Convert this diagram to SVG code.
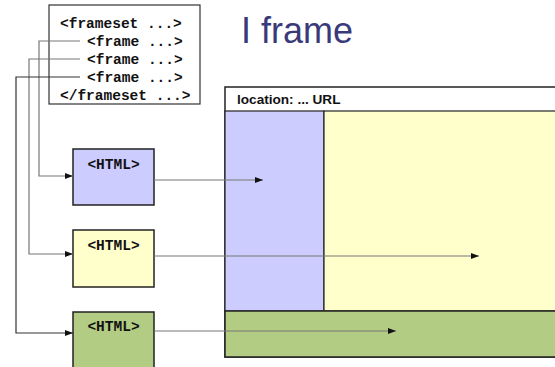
<svg xmlns="http://www.w3.org/2000/svg" width="555" height="367" viewBox="0 0 555 367">
<defs>
<marker id="arr" viewBox="0 0 8 6" refX="8" refY="3" markerWidth="8" markerHeight="6" markerUnits="userSpaceOnUse" orient="auto">
<path d="M0,0 L8,3 L0,6 Z" fill="#111"/>
</marker>
<style>
.code{font-family:"Liberation Mono",monospace;font-weight:bold;font-size:14.5px;fill:#111}
.box{stroke:#222;stroke-width:1.5}
.conn{fill:none;stroke:#777;stroke-width:1.2;marker-end:url(#arr)}
</style>
</defs>
<rect width="555" height="367" fill="#fff"/>
<text x="241" y="43" font-family="Liberation Sans,Arial,sans-serif" font-size="36" fill="#3a3a7a">I frame</text>
<g id="frameset">
<rect x="49" y="5" width="151" height="99" fill="#fff" stroke="#333" stroke-width="1.2"/>
<text class="code" x="60" y="28">&lt;frameset ...&gt;</text>
<text class="code" x="87" y="46">&lt;frame ...&gt;</text>
<text class="code" x="87" y="64">&lt;frame ...&gt;</text>
<text class="code" x="87" y="82">&lt;frame ...&gt;</text>
<text class="code" x="60" y="100">&lt;/frameset ...&gt;</text>
</g>
<g id="browser">
<rect x="225" y="87" width="340" height="270" fill="#fff" stroke="#222" stroke-width="1.5"/>
<text x="237" y="104" font-family="Liberation Sans,Arial,sans-serif" font-weight="bold" font-size="13.6" fill="#111">location: ... URL</text>
<rect x="225" y="111" width="99" height="200" fill="#ccccff" stroke="#222" stroke-width="1.2"/>
<rect x="324" y="111" width="241" height="200" fill="#ffffcc" stroke="#222" stroke-width="1.2"/>
<rect x="225" y="311" width="340" height="46" fill="#b3cc83" stroke="#222" stroke-width="1.5"/>
</g>
<g id="html1">
<rect class="box" x="73" y="149" width="81" height="56" fill="#ccccff"/>
<text class="code" x="113.5" y="169" text-anchor="middle">&lt;HTML&gt;</text>
</g>
<g id="html2">
<rect class="box" x="73" y="230" width="81" height="57" fill="#ffffcc"/>
<text class="code" x="113.5" y="250" text-anchor="middle">&lt;HTML&gt;</text>
</g>
<g id="html3">
<rect class="box" x="73" y="312" width="81" height="60" fill="#b3cc83"/>
<text class="code" x="113.5" y="331" text-anchor="middle">&lt;HTML&gt;</text>
</g>
<g id="connectors">
<path class="conn" d="M80,41 H39 V176 H73"/>
<path class="conn" d="M80,59 H29 V254 H73"/>
<path class="conn" d="M80,77 H16 V333 H73" style="stroke:#333"/>
<path class="conn" d="M154,180 H263"/>
<path class="conn" d="M154,256 H479"/>
<path class="conn" d="M154,331 H396"/>
</g>
</svg>
